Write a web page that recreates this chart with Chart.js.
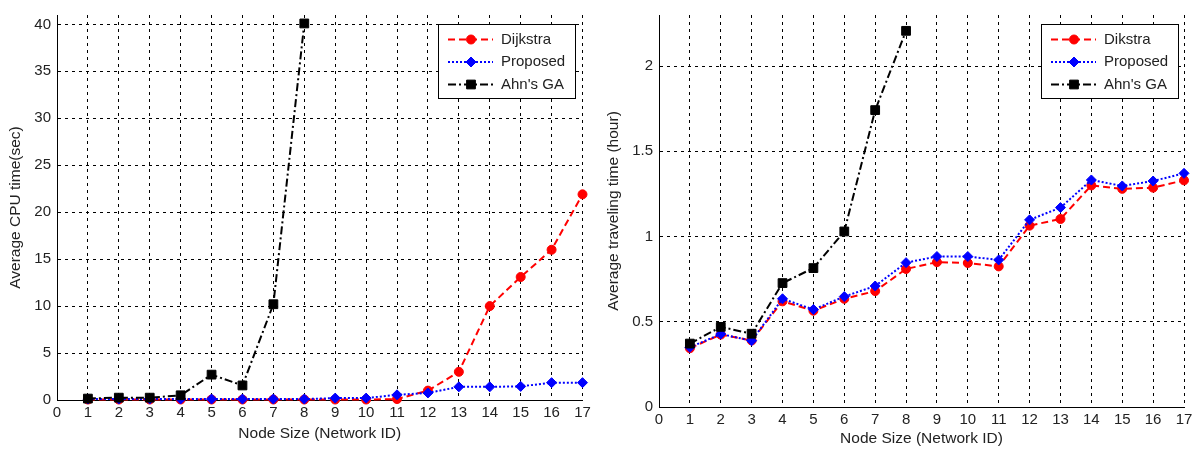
<!DOCTYPE html>
<html>
<head>
<meta charset="utf-8">
<script src="https://cdn.jsdelivr.net/npm/chart.js@4/dist/chart.umd.min.js"></script>
<style>
  html, body { margin: 0; padding: 0; background: #fff; }
  #wrap { position: relative; width: 1197px; height: 451px; }
  canvas { position: absolute; top: 0; }
</style>
</head>
<body>
<div id="wrap">
  <canvas id="chart-cpu" width="600" height="451" style="left:0;width:600px;height:451px"></canvas>
  <canvas id="chart-travel" width="597" height="451" style="left:600px;width:597px;height:451px"></canvas>
</div>
<script>
// ---- data ----
const xTicks = [0, 1, 2, 3, 4, 5, 6, 7, 8, 9, 10, 11, 12, 13, 14, 15, 16, 17];
const networkIds = [1, 2, 3, 4, 5, 6, 7, 8, 9, 10, 11, 12, 13, 14, 15, 16, 17];

const cpuYTicks = [0, 5, 10, 15, 20, 25, 30, 35, 40];
const cpuDijkstra = [0.05, 0.05, 0.05, 0.05, 0.05, 0.05, 0.05, 0.05, 0.05, 0.05, 0.1, 1.0, 3.0, 10.0, 13.1, 16.0, 21.9];
const cpuProposed = [0.1, 0.1, 0.1, 0.1, 0.1, 0.1, 0.1, 0.1, 0.2, 0.2, 0.55, 0.75, 1.4, 1.4, 1.45, 1.85, 1.85];
const cpuAhnGA = [0.15, 0.25, 0.25, 0.5, 2.7, 1.55, 10.2, 40.1];

const travelYTicks = [0, 0.5, 1, 1.5, 2];
const travelDikstra = [0.345, 0.425, 0.39, 0.62, 0.565, 0.635, 0.68, 0.81, 0.85, 0.845, 0.825, 1.064, 1.103, 1.30, 1.28, 1.287, 1.33];
const travelProposed = [0.35, 0.428, 0.389, 0.635, 0.572, 0.648, 0.71, 0.847, 0.883, 0.883, 0.863, 1.098, 1.17, 1.332, 1.297, 1.326, 1.371];
const travelAhnGA = [0.372, 0.47, 0.43, 0.727, 0.815, 1.03, 1.742, 2.207];

const FONT = 'Liberation Sans, Arial, sans-serif';
Chart.defaults.font.family = FONT;
Chart.defaults.font.size = 15;
Chart.defaults.color = '#222';

function toPoints(values) {
  return values.map((v, i) => ({x: networkIds[i], y: v}));
}

// MATLAB-style boxed legend with line sample + marker
const legendBox = {
  id: 'legendBox',
  afterDraw(chart, args, opts) {
    const {ctx, chartArea} = chart;
    const w = 137, h = 74;
    const x0 = Math.round(chartArea.right - opts.right - w);
    const y0 = Math.round(chartArea.top + opts.top);
    ctx.save();
    ctx.fillStyle = '#fff';
    ctx.fillRect(x0, y0, w, h);
    ctx.strokeStyle = '#000';
    ctx.lineWidth = 1;
    ctx.strokeRect(x0 + 0.5, y0 + 0.5, w, h);
    chart.data.datasets.forEach((ds, i) => {
      const cy = y0 + 15.5 + i * 22.5;
      ctx.setLineDash(ds.borderDash || []);
      ctx.strokeStyle = ds.borderColor;
      ctx.lineWidth = ds.borderWidth;
      ctx.beginPath();
      ctx.moveTo(x0 + 10, cy);
      ctx.lineTo(x0 + 55, cy);
      ctx.stroke();
      ctx.setLineDash([]);
      ctx.fillStyle = ds.backgroundColor;
      ctx.strokeStyle = ds.borderColor;
      ctx.lineWidth = 1;
      Chart.helpers.drawPoint(ctx, {pointStyle: ds.pointStyle, radius: ds.pointRadius, borderWidth: 1, rotation: 0}, x0 + 33, cy);
      ctx.fillStyle = '#222';
      ctx.font = '15px ' + FONT;
      ctx.textBaseline = 'middle';
      ctx.textAlign = 'left';
      ctx.fillText(ds.label, x0 + 63, cy);
    });
    ctx.restore();
  }
};

function makeDatasets(labels, red, blue, black) {
  return [
    {
      label: labels[0], data: toPoints(red), order: 2,
      borderColor: '#f00', backgroundColor: '#f00', borderWidth: 2,
      borderDash: [7, 4], pointStyle: 'circle', pointRadius: 4.5,
      pointBorderWidth: 1, clip: false, tension: 0,
    },
    {
      label: labels[1], data: toPoints(blue), order: 1,
      borderColor: '#00f', backgroundColor: '#00f', borderWidth: 2,
      borderDash: [2, 2], pointStyle: 'rectRot', pointRadius: 5,
      pointBorderWidth: 1, clip: false, tension: 0,
    },
    {
      label: labels[2], data: toPoints(black), order: 0,
      borderColor: '#000', backgroundColor: '#000', borderWidth: 2,
      borderDash: [8, 3, 2, 3], pointStyle: 'rect', pointRadius: 6.2,
      pointBorderWidth: 1, clip: false, tension: 0,
    },
  ];
}

function makeChart(canvasId, cfg) {
  new Chart(document.getElementById(canvasId), {
    type: 'line',
    data: {datasets: makeDatasets(cfg.labels, cfg.red, cfg.blue, cfg.black)},
    plugins: [legendBox],
    options: {
      responsive: false,
      animation: false,
      layout: {padding: {left: 0, top: cfg.top, right: cfg.right, bottom: 0}},
      plugins: {
        legend: {display: false},
        tooltip: {enabled: false},
        legendBox: {right: cfg.legendRight, top: 9},
      },
      scales: {
        x: {
          type: 'linear', min: 0, max: 17,
          afterBuildTicks: s => { s.ticks = xTicks.map(v => ({value: v})); },
          afterFit: s => { s.height = cfg.xHeight; },
          grid: {color: '#000', lineWidth: 1, drawTicks: false},
          border: {display: true, color: '#000', width: 1, dash: [3, 4]},
          ticks: {padding: 4, maxRotation: 0, autoSkip: false, callback: v => String(v)},
          title: {display: true, text: 'Node Size (Network ID)', font: {size: 15.5}, padding: {top: 0, bottom: cfg.xTitlePad}},
        },
        y: {
          type: 'linear', min: 0, max: cfg.yMax,
          afterBuildTicks: s => { s.ticks = cfg.yTicks.map(v => ({value: v})); },
          afterFit: s => { s.width = cfg.yWidth; },
          grid: {color: '#000', lineWidth: 1, drawTicks: false},
          border: {display: true, color: '#000', width: 1, dash: [3, 4]},
          ticks: {padding: 6, callback: v => String(v)},
          title: {display: true, text: cfg.yTitle, font: {size: 15.5}, padding: {top: cfg.yTitlePad, bottom: 0}},
        },
      },
    },
  });
}

makeChart('chart-cpu', {
  labels: ['Dijkstra', 'Proposed', "Ahn's GA"],
  red: cpuDijkstra, blue: cpuProposed, black: cpuAhnGA,
  yTicks: cpuYTicks, yMax: 41, yTitle: 'Average CPU time(sec)',
  top: 8, right: 17.5, yWidth: 57, xHeight: 51,
  xTitlePad: 8, yTitlePad: 6, legendRight: 8,
});

makeChart('chart-travel', {
  labels: ['Dikstra', 'Proposed', "Ahn's GA"],
  red: travelDikstra, blue: travelProposed, black: travelAhnGA,
  yTicks: travelYTicks, yMax: 2.3, yTitle: 'Average traveling time (hour)',
  top: 15, right: 13, yWidth: 59, xHeight: 44,
  xTitlePad: 3, yTitlePad: 4, legendRight: 6,
});
</script>
</body>
</html>
